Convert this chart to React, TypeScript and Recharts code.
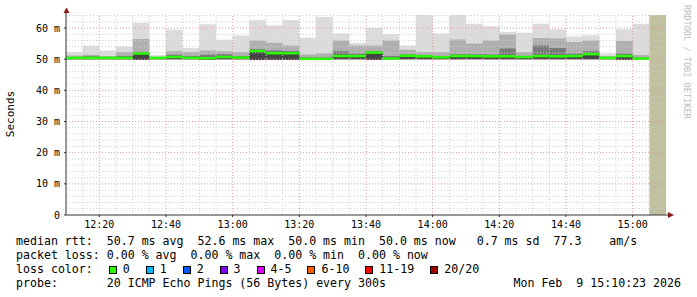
import React from 'react';
import { ComposedChart, Area, XAxis, YAxis, ReferenceLine, ReferenceArea } from 'recharts';

// 5 minute slots, start time of each
const slotLabels = [
  '12:10', '12:15', '12:20', '12:25', '12:30', '12:35', '12:40', '12:45', '12:50', '12:55',
  '13:00', '13:05', '13:10', '13:15', '13:20', '13:25', '13:30', '13:35', '13:40', '13:45',
  '13:50', '13:55', '14:00', '14:05', '14:10', '14:15', '14:20', '14:25', '14:30', '14:35',
  '14:40', '14:45', '14:50', '14:55', '15:00',
];

// values in ms
const rttMin = [
  50.0, 50.0, 50.0, 50.0, 49.8, 50.0, 50.0, 50.0, 49.8, 50.0,
  50.0, 49.7, 49.8, 49.8, 49.9, 50.0, 50.0, 50.0, 49.8, 50.0,
  50.0, 50.0, 50.0, 50.0, 50.0, 50.0, 50.0, 50.0, 50.0, 50.0,
  50.0, 50.0, 50.0, 49.8, 50.0,
];
const rttMedian = [
  50.4, 50.4, 50.4, 50.4, 51.8, 50.4, 50.7, 50.4, 50.3, 50.7,
  50.5, 52.6, 51.9, 51.9, 50.1, 50.1, 51.0, 51.0, 52.1, 50.2,
  51.1, 50.9, 50.6, 51.0, 51.0, 50.9, 50.9, 50.7, 51.0, 50.9,
  51.0, 51.6, 50.4, 51.0, 50.2,
];
const rttDark = [
  50.7, 50.9, 50.6, 51.0, 52.3, 50.6, 51.4, 51.0, 51.4, 51.6,
  51.0, 53.2, 52.8, 52.6, 50.6, 50.5, 52.5, 51.8, 52.5, 51.0,
  51.6, 51.3, 51.0, 51.6, 51.6, 51.5, 53.4, 51.0, 54.4, 53.6,
  51.8, 52.5, 50.6, 51.8, 50.5,
];
const rttMid = [
  51.2, 51.4, 51.0, 52.3, 56.5, 50.8, 52.5, 52.3, 52.8, 52.5,
  52.3, 56.0, 55.3, 54.4, 51.5, 51.8, 56.0, 54.4, 54.4, 56.0,
  53.0, 52.3, 52.3, 56.3, 55.0, 56.0, 57.9, 52.3, 56.8, 56.6,
  55.5, 56.0, 51.0, 55.8, 51.3,
];
const rttMax = [
  52.3, 54.3, 52.8, 54.1, 61.7, 51.3, 59.5, 53.6, 61.2, 56.2,
  57.6, 62.5, 60.8, 62.5, 56.9, 63.5, 58.2, 55.3, 60.0, 58.0,
  54.4, 64.3, 58.2, 64.3, 61.4, 60.6, 58.7, 58.5, 61.4, 59.6,
  57.3, 57.7, 51.8, 59.6, 61.4,
];

const unknownSlot = '15:05';
const xTickLabels = ['12:20', '12:40', '13:00', '13:20', '13:40', '14:00', '14:20', '14:40', '15:00'];
const yTicks = [0, 10, 20, 30, 40, 50, 60];

const lossLabels = ['0', '1', '2', '3', '4-5', '6-10', '11-19', '20/20'];
const lossColors = ['#26ff00', '#00b8ff', '#0059ff', '#7e00ff', '#dd00ff', '#ff5e00', '#ff0000', '#a10000'];

const STEP = 5;
const X_START = 730; // 12:10
const X_END = 910; // 15:10
const Y_TOP = 64.17;

const toMin = (s: string) => {
  const [h, m] = s.split(':').map(Number);
  return h * 60 + m;
};
const fmtTime = (v: number) => `${Math.floor(v / 60)}:${String(v % 60).padStart(2, '0')}`;

const rows = slotLabels.map((s, i) => ({
  t: toMin(s),
  smoke: [rttMin[i], rttMax[i]],
  mid: [rttMin[i], rttMid[i]],
  dark: [rttMin[i], rttDark[i]],
  core: [rttMin[i], rttMedian[i]],
}));
// closing point so the last step is drawn to its end
const data = [...rows, { ...rows[rows.length - 1], t: rows[rows.length - 1].t + STEP }];

const majorX = xTickLabels.map(toMin);
const minorX: number[] = [];
for (let t = X_START + STEP; t < X_END; t += STEP) if (!majorX.includes(t)) minorX.push(t);
const minorY: number[] = [];
for (let v = 2; v < Y_TOP; v += 2) if (v % 10 !== 0) minorY.push(v);

const MONO = '"DejaVu Sans Mono", monospace';
const minorStroke = '#cfcfcf';
const majorStroke = '#e39a9a';

const legendLine: React.CSSProperties = {
  position: 'absolute',
  left: 16,
  fontFamily: MONO,
  fontSize: 11.6,
  lineHeight: '14px',
  whiteSpace: 'pre',
  color: '#000',
};

export default function App() {
  return (
    <div style={{ position: 'absolute', left: 0, top: 0, width: 697, height: 297, background: '#fff', overflow: 'hidden' }}>
      <ComposedChart width={697} height={297} data={data} margin={{ top: 15, right: 31, bottom: 62, left: 0 }}>
        <XAxis
          dataKey="t"
          type="number"
          domain={[X_START, X_END]}
          allowDataOverflow
          ticks={majorX}
          tickFormatter={fmtTime}
          height={20}
          axisLine={{ stroke: '#333' }}
          tickLine={{ stroke: '#333' }}
          tickSize={2}
          tickMargin={4}
          tick={{ fontSize: 10, fontFamily: MONO, fill: '#000' }}
        />
        <YAxis
          type="number"
          domain={[0, Y_TOP]}
          allowDataOverflow
          ticks={yTicks}
          tickFormatter={(v: number) => (v === 0 ? '0' : `${v} m`)}
          width={66}
          axisLine={{ stroke: '#333' }}
          tickLine={{ stroke: '#333' }}
          tickSize={2}
          tickMargin={4}
          tick={{ fontSize: 10, fontFamily: MONO, fill: '#000' }}
        />
        <Area type="stepAfter" dataKey="smoke" stroke="none" fill="#dcdcdc" fillOpacity={1} dot={false} activeDot={false} isAnimationActive={false} />
        <Area type="stepAfter" dataKey="mid" stroke="none" fill="#afafaf" fillOpacity={1} dot={false} activeDot={false} isAnimationActive={false} />
        <Area type="stepAfter" dataKey="dark" stroke="none" fill="#7a7a7a" fillOpacity={1} dot={false} activeDot={false} isAnimationActive={false} />
        <Area type="stepAfter" dataKey="core" stroke="none" fill="#444444" fillOpacity={1} dot={false} activeDot={false} isAnimationActive={false} />
        <ReferenceArea x1={toMin(unknownSlot)} x2={X_END} fill="#c0bf9f" fillOpacity={1} stroke="none" />
        {minorX.map((t) => (
          <ReferenceLine key={`mx${t}`} x={t} stroke={minorStroke} strokeDasharray="1 2" />
        ))}
        {minorY.map((v) => (
          <ReferenceLine key={`my${v}`} y={v} stroke={minorStroke} strokeDasharray="1 2" />
        ))}
        {majorX.map((t) => (
          <ReferenceLine key={`Mx${t}`} x={t} stroke={majorStroke} strokeDasharray="1 2" />
        ))}
        {yTicks.slice(1).map((v) => (
          <ReferenceLine key={`My${v}`} y={v} stroke={majorStroke} strokeDasharray="1 2" />
        ))}
        {rows.map((r, i) => (
          <ReferenceLine
            key={`med${i}`}
            segment={[{ x: r.t, y: rttMedian[i] }, { x: r.t + STEP, y: rttMedian[i] }]}
            stroke={lossColors[0]}
            strokeWidth={2.5}
          />
        ))}
      </ComposedChart>

      <svg width={697} height={297} style={{ position: 'absolute', left: 0, top: 0, pointerEvents: 'none' }}>
        <line x1={66} y1={15} x2={66} y2={10} stroke="#333" />
        <line x1={666} y1={215} x2={670} y2={215} stroke="#333" />
        <polygon points="63.5,13 69.5,13 66.5,7.5" fill="#8b1a1a" />
        <polygon points="668,212 668,218 674,215" fill="#8b1a1a" />
        <text x={14} y={114} transform="rotate(-90 14 114)" textAnchor="middle" fontFamily={MONO} fontSize={11} fill="#000">
          Seconds
        </text>
        <text x={684} y={5} transform="rotate(90 684 5)" fontFamily={MONO} fontSize={8.6} fill="#c0c0c0">
          RRDTOOL / TOBI OETIKER
        </text>
      </svg>

      <div style={{ ...legendLine, top: 234 }}>median rtt:  50.7 ms avg  52.6 ms max  50.0 ms min  50.0 ms now   0.7 ms sd  77.3    am/s</div>
      <div style={{ ...legendLine, top: 248 }}>packet loss: 0.00 % avg  0.00 % max  0.00 % min  0.00 % now</div>
      <div style={{ ...legendLine, top: 262 }}>
        {'loss color:  '}
        {lossLabels.map((l, i) => (
          <span key={l}>
            <span
              style={{
                display: 'inline-block',
                width: 6,
                height: 6,
                marginLeft: 2,
                marginRight: 6,
                background: lossColors[i],
                border: '1px solid #000',
                verticalAlign: -1,
              }}
            />
            {l + '  '}
          </span>
        ))}
      </div>
      <div style={{ ...legendLine, top: 276 }}>probe:       20 ICMP Echo Pings (56 Bytes) every 300s</div>
      <div style={{ ...legendLine, left: 'auto', right: 16, top: 276 }}>Mon Feb  9 15:10:23 2026</div>
    </div>
  );
}
